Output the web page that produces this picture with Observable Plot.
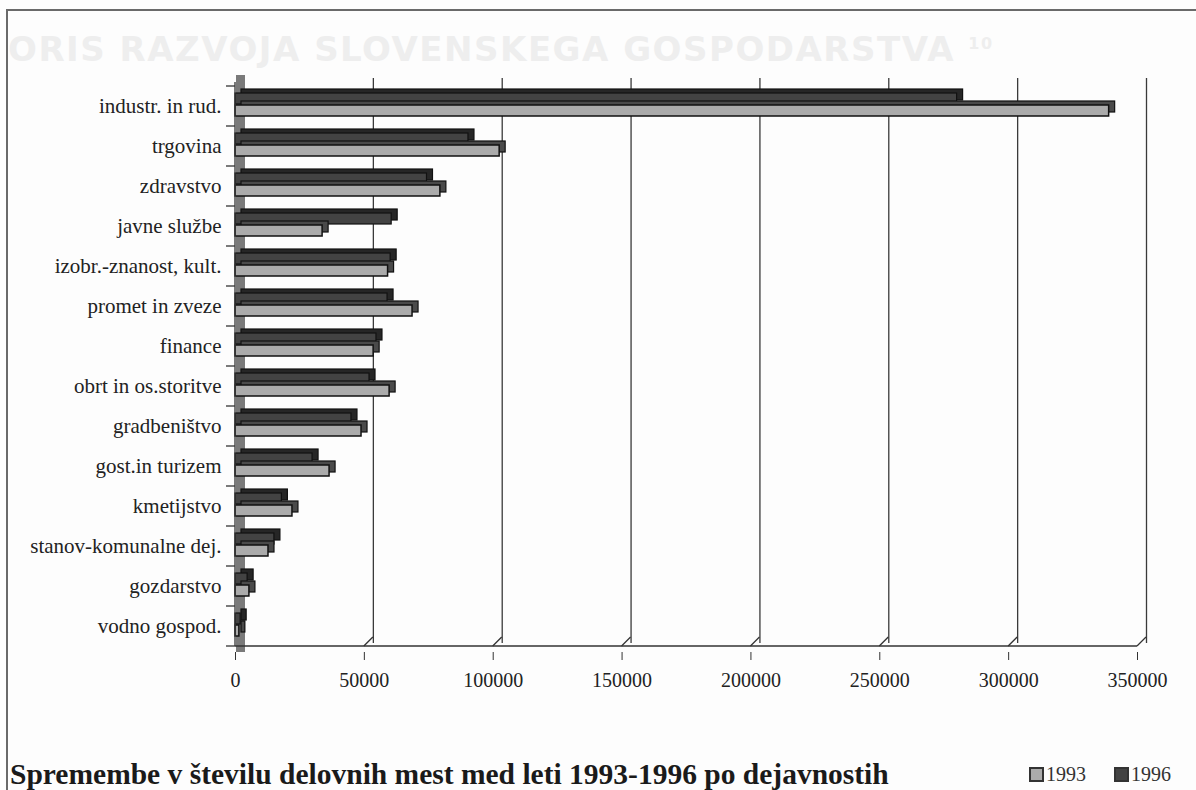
<!DOCTYPE html>
<html>
<head>
<meta charset="utf-8">
<script src="https://cdn.jsdelivr.net/npm/d3@7"></script>
<script src="https://cdn.jsdelivr.net/npm/@observablehq/plot@0.6"></script>
<style>
  html, body { margin: 0; padding: 0; background: #fdfdfd; }
  #page { position: relative; width: 1196px; height: 790px; overflow: hidden; }
  #frameTop { position: absolute; left: 7px; top: 9px; width: 1189px; height: 0; border-top: 2px solid #6a6a6a; }
  #frameLeft { position: absolute; left: 6px; top: 9px; width: 0; height: 781px; border-left: 2px solid #6a6a6a; }
  #ghost { position: absolute; left: 8px; top: 29px; font-family: "DejaVu Sans", sans-serif; font-weight: bold;
           font-size: 34px; color: #eeeeee; letter-spacing: 1.5px; white-space: nowrap; }
  #ghost sup { font-size: 16px; }
  #chart { position: absolute; left: 0; top: 0; }
  #caption { position: absolute; left: 10px; top: 757px; font-family: "Liberation Serif", serif; font-weight: bold;
             font-size: 29.5px; line-height: 34px; color: #1a1a1a; white-space: nowrap; }
  #legend { position: absolute; left: 1029px; top: 763px; font-family: "Liberation Serif", serif; font-size: 20px;
            color: #333; white-space: nowrap; display: flex; gap: 28px; }
  .item { display: flex; align-items: center; gap: 2px; }
  .sw { display: inline-block; width: 11px; height: 11px; border: 2px solid #333; }
</style>
</head>
<body>
<div id="page">
  <div id="ghost">ORIS RAZVOJA SLOVENSKEGA GOSPODARSTVA <sup>10</sup></div>
  <div id="frameTop"></div>
  <div id="frameLeft"></div>
  <div id="chart"></div>
  <div id="caption"></div>
  <div id="legend"></div>
</div>
<script>
const categories = [
  "industr. in rud.",
  "trgovina",
  "zdravstvo",
  "javne službe",
  "izobr.-znanost, kult.",
  "promet in zveze",
  "finance",
  "obrt in os.storitve",
  "gradbeništvo",
  "gost.in turizem",
  "kmetijstvo",
  "stanov-komunalne dej.",
  "gozdarstvo",
  "vodno gospod."
];
const values1993 = [339000, 102500, 79500, 33800, 59200, 68700, 53600, 59800, 48900, 36500, 22100, 12800, 5400, 1500];
const values1996 = [280000, 90400, 74300, 60600, 60200, 59000, 54700, 52000, 45000, 29900, 18000, 15100, 4700, 2000];
const seriesNames = ["1993", "1996"];
const xTicks = [0, 50000, 100000, 150000, 200000, 250000, 300000, 350000];
const captionText = "Spremembe v številu delovnih mest med leti 1993-1996 po dejavnostih";

const colors = {"1993": "#ababab", "1996": "#434343"};
const depthColors = {"1993": "#4a4a4a", "1996": "#262626"};

const rows93 = categories.map((c, i) => ({category: c, value: values1993[i], series: seriesNames[0]}));
const rows96 = categories.map((c, i) => ({category: c, value: values1996[i], series: seriesNames[1]}));

const plot = Plot.plot({
  width: 1196,
  height: 700,
  marginLeft: 235,
  marginRight: 59,
  marginTop: 80,
  marginBottom: 48,
  x: {domain: [0, 350000]},
  y: {domain: categories, padding: 0},
  style: {fontFamily: "'Liberation Serif', serif", background: "transparent", color: "#222"},
  marks: [
    Plot.ruleX(xTicks.slice(1), {x: d => d, dx: 9, insetBottom: 9, insetTop: -2, stroke: "#3a3a3a", strokeWidth: 1.3}),
    Plot.ruleX([0], {x: d => d, dx: 5, insetTop: -5, strokeWidth: 9, stroke: "#7a7a7a"}),
    Plot.barX(rows96, {x: "value", y: "category", insetTop: 7, insetBottom: 22, dx: 6, dy: -4, fill: depthColors["1996"], stroke: "#111", strokeWidth: 1.2}),
    Plot.barX(rows96, {x: "value", y: "category", insetTop: 7, insetBottom: 22, fill: colors["1996"], stroke: "#111", strokeWidth: 1.2}),
    Plot.barX(rows93, {x: "value", y: "category", insetTop: 19, insetBottom: 10, dx: 6, dy: -4, fill: depthColors["1993"], stroke: "#111", strokeWidth: 1.2}),
    Plot.barX(rows93, {x: "value", y: "category", insetTop: 19, insetBottom: 10, fill: colors["1993"], stroke: "#111", strokeWidth: 1.5}),
    Plot.axisX({ticks: xTicks, tickSize: 8, tickPadding: 12, fontSize: 20, tickFormat: d3.format("d"), label: null, stroke: "#333"}),
    Plot.axisY({tickSize: 0, tickPadding: 14, fontSize: 21, label: null})
  ]
});

document.getElementById("chart").appendChild(plot);

// decorative 3D pieces positioned through the plot's own scales
const xs = plot.scale("x");
const ys = plot.scale("y");
const svg = d3.select(plot);
const x0 = xs.apply(0);
const xEnd = xs.apply(350000);
const yTop = ys.apply(categories[0]);
const yBottom = ys.apply(categories[categories.length - 1]) + ys.bandwidth;
const g = svg.append("g").attr("stroke", "#333").attr("fill", "none").attr("stroke-width", 1.3);
g.append("line").attr("x1", x0).attr("x2", xEnd).attr("y1", yBottom).attr("y2", yBottom);
xTicks.slice(1).forEach(t => {
  const xp = xs.apply(t);
  g.append("line").attr("x1", xp + 9).attr("x2", xp).attr("y1", yBottom - 9).attr("y2", yBottom);
});
categories.forEach(c => {
  const yp = ys.apply(c);
  g.append("line").attr("x1", x0 - 9).attr("x2", x0).attr("y1", yp).attr("y2", yp);
});
g.append("line").attr("x1", x0 - 9).attr("x2", x0).attr("y1", yBottom).attr("y2", yBottom);
g.append("line").attr("x1", x0).attr("x2", x0).attr("y1", yTop - 4).attr("y2", yBottom);

document.getElementById("caption").textContent = captionText;
const legend = d3.select("#legend");
seriesNames.forEach(s => {
  const it = legend.append("span").attr("class", "item");
  it.append("span").attr("class", "sw").style("background", colors[s]);
  it.append("span").text(s);
});
</script>
</body>
</html>
